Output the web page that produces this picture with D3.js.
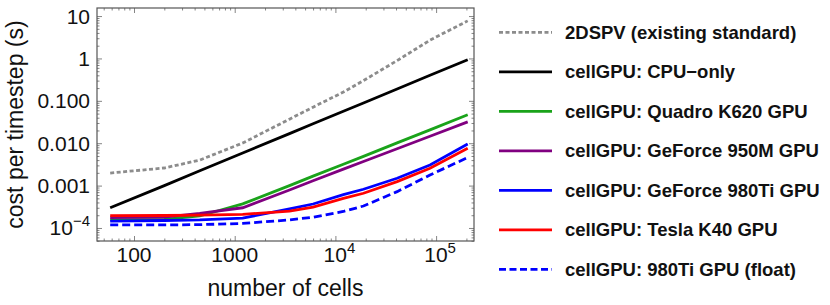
<!DOCTYPE html>
<html>
<head>
<meta charset="utf-8">
<script src="https://cdn.jsdelivr.net/npm/d3@7"></script>
<style>
  body { margin: 0; background: #fff; }
  text { font-family: "Liberation Sans", Arial, sans-serif; }
</style>
</head>
<body>
<div id="chart"></div>
<script>
(function () {
    'use strict';
    var w = 830, h = 305;

    // number of cells (x) and cost per timestep in seconds (y)
    var cells      = [58, 200, 450, 1200, 3500, 6000, 12000, 19000, 41000, 87000, 206000];
    var spv2d      = [0.00198, 0.0026, 0.0040, 0.0101, 0.037, 0.071, 0.161, 0.30, 0.89, 2.7, 7.7];
    var cpuOnly    = [3.0e-4, 1.0e-3, 2.24e-3, 5.9e-3, 0.0168, 0.0287, 0.057, 0.089, 0.19, 0.40, 0.93];
    var quadro     = [1.55e-4, 1.6e-4, 1.92e-4, 3.7e-4, 1.0e-3, 1.67e-3, 3.2e-3, 4.9e-3, 0.0102, 0.0207, 0.0468];
    var gf950m     = [1.75e-4, 1.8e-4, 2.2e-4, 3.0e-4, 7.9e-4, 1.3e-3, 2.45e-3, 3.7e-3, 7.4e-3, 0.0146, 0.0318];
    var gf980ti    = [1.45e-4, 1.5e-4, 1.55e-4, 1.7e-4, 2.84e-4, 3.68e-4, 6.1e-4, 8.2e-4, 1.49e-3, 3.06e-3, 9.6e-3];
    var teslaK40   = [1.95e-4, 1.97e-4, 2.0e-4, 2.1e-4, 2.5e-4, 3.1e-4, 5.0e-4, 6.6e-4, 1.24e-3, 2.56e-3, 7.6e-3];
    var gf980float = [1.18e-4, 1.18e-4, 1.2e-4, 1.28e-4, 1.55e-4, 1.8e-4, 2.45e-4, 3.3e-4, 7.2e-4, 1.78e-3, 4.6e-3];

    var seriesNames = [
        "2DSPV (existing standard)",
        "cellGPU: CPU\u2212only",
        "cellGPU: Quadro K620 GPU",
        "cellGPU: GeForce 950M GPU",
        "cellGPU: GeForce 980Ti GPU",
        "cellGPU: Tesla K40 GPU",
        "cellGPU: 980Ti GPU (float)"
    ];
    var seriesValues = [spv2d, cpuOnly, quadro, gf950m, gf980ti, teslaK40, gf980float];
    var seriesColors = ["#8c8c8c", "#000000", "#1aa31a", "#800080", "#0000ff", "#ff0000", "#0000ff"];
    var seriesDash   = ["4,2.5", null, null, null, null, null, "8,4"];

    var xMajor = [100, 1000, 1e4, 1e5];
    var xMajorLabels = [["100"], ["1000"], ["10", "4"], ["10", "5"]];
    var yMajor = [10, 1, 0.1, 0.01, 0.001, 1e-4];
    var yMajorLabels = [["10"], ["1"], ["0.100"], ["0.010"], ["0.001"], ["10", "\u22124"]];

    var frame = {left: 97, top: 8, right: 474, bottom: 241};

    var x = d3.scaleLog().domain([42.9, 237900]).range([frame.left, frame.right]);
    var y = d3.scaleLog().domain([4.93e-5, 15.5]).range([frame.bottom, frame.top]);

    var svg = d3.select("#chart").append("svg")
        .attr("width", w).attr("height", h);

    // minor tick values: 2..9 times each decade inside the domain
    function minorTicks(scale) {
        var d = scale.domain(), out = [];
        for (var e = -6; e <= 6; e++) {
            for (var m = 2; m <= 9; m++) {
                var v = m * Math.pow(10, e);
                if (v > d[0] && v < d[1]) out.push(v);
            }
        }
        return out;
    }

    var tickColor = "#666";
    var g = svg.append("g");

    function addAxis(axisFn, scale, vals, size, transform) {
        g.append("g")
            .attr("transform", transform)
            .call(axisFn(scale).tickValues(vals).tickSizeInner(size).tickSizeOuter(0).tickFormat(""))
            .call(function (s) {
                s.select(".domain").remove();
                s.selectAll(".tick line").attr("stroke", tickColor).attr("stroke-width", 0.8);
            });
    }
    // ticks point inward on all four sides
    addAxis(d3.axisBottom, x, xMajor, -5, "translate(0," + frame.bottom + ")");
    addAxis(d3.axisBottom, x, minorTicks(x), -2.5, "translate(0," + frame.bottom + ")");
    addAxis(d3.axisTop, x, xMajor, -5, "translate(0," + frame.top + ")");
    addAxis(d3.axisTop, x, minorTicks(x), -2.5, "translate(0," + frame.top + ")");
    addAxis(d3.axisLeft, y, yMajor, -5, "translate(" + frame.left + ",0)");
    addAxis(d3.axisLeft, y, minorTicks(y), -2.5, "translate(" + frame.left + ",0)");
    addAxis(d3.axisRight, y, yMajor, -5, "translate(" + frame.right + ",0)");
    addAxis(d3.axisRight, y, minorTicks(y), -2.5, "translate(" + frame.right + ",0)");

    svg.append("rect")
        .attr("x", frame.left).attr("y", frame.top)
        .attr("width", frame.right - frame.left)
        .attr("height", frame.bottom - frame.top)
        .attr("fill", "none").attr("stroke", "#555").attr("stroke-width", 1.2);

    // tick labels (with superscript exponents)
    function writeLabel(sel, parts) {
        sel.append("tspan").text(parts[0]);
        if (parts.length > 1) {
            sel.append("tspan").attr("dy", -9).attr("font-size", "15px").text(parts[1]);
        }
    }
    xMajor.forEach(function (v, i) {
        var t = svg.append("text")
            .attr("x", x(v) + (xMajorLabels[i].length > 1 ? 4 : 0))
            .attr("y", 262)
            .attr("text-anchor", "middle")
            .attr("font-size", "21px")
            .attr("fill", "#111");
        writeLabel(t, xMajorLabels[i]);
    });
    yMajor.forEach(function (v, i) {
        var t = svg.append("text")
            .attr("x", 90)
            .attr("y", y(v) + 7.5)
            .attr("text-anchor", "end")
            .attr("font-size", "21px")
            .attr("fill", "#111");
        writeLabel(t, yMajorLabels[i]);
    });

    svg.append("text")
        .attr("x", (frame.left + frame.right) / 2)
        .attr("y", 296)
        .attr("text-anchor", "middle")
        .attr("font-size", "23px")
        .attr("fill", "#111")
        .text("number of cells");

    svg.append("text")
        .attr("transform", "translate(23," + ((frame.top + frame.bottom) / 2) + ") rotate(-90)")
        .attr("text-anchor", "middle")
        .attr("font-size", "23px")
        .attr("fill", "#111")
        .text("cost per timestep (s)");

    // data lines
    var line = d3.line()
        .x(function (d) { return x(d[0]); })
        .y(function (d) { return y(d[1]); });

    seriesValues.forEach(function (vals, i) {
        svg.append("path")
            .datum(cells.map(function (c, j) { return [c, vals[j]]; }))
            .attr("d", line)
            .attr("fill", "none")
            .attr("stroke", seriesColors[i])
            .attr("stroke-width", 2.8)
            .attr("stroke-dasharray", seriesDash[i]);
    });

    // legend
    var legend = svg.append("g");
    seriesNames.forEach(function (name, i) {
        var ly = 32.3 + i * 39.5;
        legend.append("line")
            .attr("x1", 499).attr("x2", 552)
            .attr("y1", ly).attr("y2", ly)
            .attr("stroke", seriesColors[i])
            .attr("stroke-width", 2.8)
            .attr("stroke-dasharray", seriesDash[i] === "8,4" ? "7,3.5" : seriesDash[i]);
        legend.append("text")
            .attr("x", 565).attr("y", ly + 6.5)
            .attr("font-size", "18.5px")
            .attr("font-weight", "bold")
            .attr("fill", "#111")
            .text(name);
    });
}());
</script>
</body>
</html>
